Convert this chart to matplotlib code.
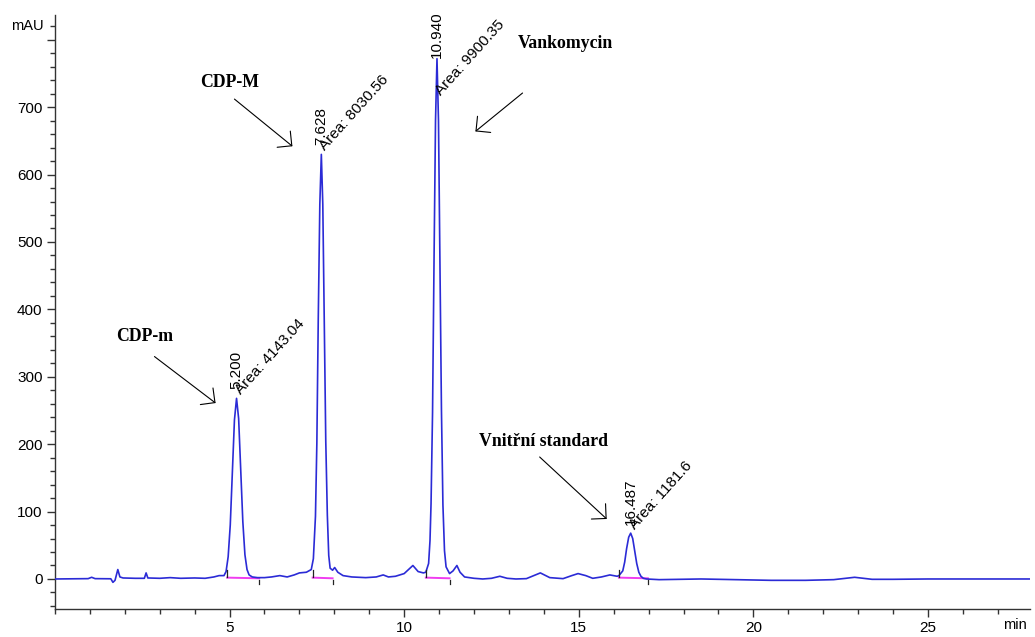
import numpy as np
import matplotlib
matplotlib.use("Agg")
import matplotlib.pyplot as plt
from matplotlib.ticker import MultipleLocator

# chromatogram trace (min, mAU)
time = [0.00, 0.50, 0.95, 1.05, 1.15, 1.60, 1.66, 1.72, 1.80, 1.86, 1.95, 2.30, 2.56, 2.61, 2.66,
        3.00, 3.30, 3.60, 4.00, 4.30, 4.55, 4.70, 4.84, 4.90, 4.96, 5.02, 5.08, 5.14, 5.20,
        5.26, 5.32, 5.38, 5.44, 5.50, 5.56, 5.65, 5.80, 6.00, 6.20, 6.44, 6.65, 6.85, 7.00, 7.20,
        7.34, 7.40, 7.46, 7.50, 7.54, 7.585, 7.628, 7.67, 7.71, 7.755, 7.80, 7.84, 7.88, 7.95, 8.01,
        8.10, 8.25, 8.50, 8.90, 9.20, 9.40, 9.55, 9.75, 9.87, 10.00, 10.25, 10.40, 10.55, 10.62,
        10.70, 10.74, 10.77, 10.813, 10.855, 10.898, 10.94, 10.983, 11.025, 11.068, 11.11, 11.155,
        11.20, 11.30, 11.40, 11.51, 11.60, 11.73, 12.00, 12.25, 12.50, 12.74, 12.95, 13.20, 13.50,
        13.90, 14.17, 14.55, 14.80, 14.98, 15.20, 15.40, 15.65, 15.89, 16.10, 16.15, 16.26, 16.315,
        16.37, 16.43, 16.487, 16.545, 16.60, 16.66, 16.72, 16.78, 16.85, 16.94, 17.30, 18.00, 18.50,
        19.50, 20.50, 21.50, 22.30, 22.90, 23.40, 24.00, 25.00, 26.00, 27.00, 28.00]
mau = [0, 0.3, 0.5, 2.5, 0.5, 0.3, -5, -2, 14, 3, 1.5, 1, 1, 9, 1.5,
       1, 2, 1, 1.5, 1, 3, 5, 5, 11, 33, 80, 158, 236, 268,
       238, 162, 85, 36, 14, 6, 3, 2, 2, 3, 5, 3, 6, 9, 10,
       14, 30, 93, 202, 385, 556, 630, 556, 385, 205, 95, 35, 16, 13, 17,
       10, 5, 3, 2, 3, 6, 3, 4, 6, 8, 20, 11, 9, 10,
       23, 57, 112, 247, 470, 680, 772, 680, 470, 250, 110, 42,
       18, 8, 12, 20, 10, 3, 1, 0, 1, 4, 1, 0, 0.5,
       9, 2, 0.5, 5, 8, 5, 1, 3, 6, 4, 5, 12, 25,
       45, 62, 68, 60, 42, 23, 10, 4, 1, 0, -1, -0.5, 0,
       -1, -2, -2, -1, 2.5, -0.5, -0.5, 0, 0, 0, 0]

# integrated peaks
peak_rt = [5.200, 7.628, 10.940, 16.487]
peak_area = [4143.04, 8030.56, 9900.35, 1181.6]
area_text = ["4143.04", "8030.56", "9900.35", "1181.6"]
bl_start = [4.93, 7.38, 10.62, 16.15]
bl_end = [5.85, 7.95, 11.30, 16.98]

# label placement (mAU)
rt_label_y = [276, 637, 767, 74]
area_label_y = [268, 630, 712, 68]

names = ["CDP-m", "CDP-M", "Vankomycin", "Vnitřní standard"]
name_xy = [(2.56, 360), (5.0, 737), (14.62, 795), (14.0, 204)]
arrow_from = [(2.85, 330), (5.14, 712), (13.39, 721), (13.88, 181)]
arrow_to = [(4.60, 261), (6.80, 642), (12.04, 664), (15.80, 89)]

plt.rcParams['font.family'] = ['Liberation Sans', 'DejaVu Sans']

fig = plt.figure(figsize=(10.35, 6.37), dpi=100)
ax = fig.add_axes([0.0531, 0.044, 0.942, 0.9325])

ax.plot(time, mau, color='#2b2bd6', lw=1.2, zorder=3)

# integration baselines and start/end marks
for s, e in zip(bl_start, bl_end):
    ax.plot([s, e], [2, 1], color='#f03cf0', lw=1.4, zorder=2)
    ax.plot([s, s], [3, 14], color='#222222', lw=0.9, zorder=4)
    ax.plot([e, e], [-1, -8], color='#222222', lw=0.9, zorder=4)

for rt, ry, ay, area in zip(peak_rt, rt_label_y, area_label_y, area_text):
    ax.annotate(f"{rt:.3f}", xy=(rt, ry), xytext=(0, 3), textcoords='offset points',
                rotation=90, ha='center', va='bottom', fontsize=11, zorder=5)
    ax.annotate("Area: " + area, xy=(rt, ay), xytext=(4.5, 1), textcoords='offset points',
                rotation=48, rotation_mode='anchor', ha='left', va='bottom', fontsize=11, zorder=5)

for name, (tx, ty), p0, p1 in zip(names, name_xy, arrow_from, arrow_to):
    ax.text(tx, ty, name, ha='center', va='center', fontsize=12.8, fontweight='bold',
            family=['Liberation Serif', 'DejaVu Serif'])
    ax.annotate("", xy=p1, xytext=p0,
                arrowprops=dict(arrowstyle="->,head_length=0.75,head_width=0.75",
                                lw=0.8, color='black', shrinkA=0, shrinkB=0))

ax.set_xlim(0, 27.92)
ax.set_ylim(-44.5, 836.8)
ax.spines['top'].set_visible(False)
ax.spines['right'].set_visible(False)
for sp in ['left', 'bottom']:
    ax.spines[sp].set_color('#333333')
    ax.spines[sp].set_linewidth(1.0)

ax.set_xticks([5, 10, 15, 20, 25])
ax.xaxis.set_minor_locator(MultipleLocator(1))
ax.set_yticks(range(0, 801, 100))
ax.set_yticklabels([str(v) for v in range(0, 701, 100)] + [""])
ax.yaxis.set_minor_locator(MultipleLocator(20))
ax.tick_params(which='major', length=6, width=1.0, color='#333333', labelsize=11, pad=3)
ax.tick_params(which='minor', length=3.5, width=1.0, color='#333333')

ax.text(-0.012, 820, "mAU", transform=ax.get_yaxis_transform(), ha='right', va='center', fontsize=10.5)
fig.text(0.9807, 0.0075, "min", ha='center', va='bottom', fontsize=10.5)

fig.savefig("out.png", dpi=100, facecolor='white')
